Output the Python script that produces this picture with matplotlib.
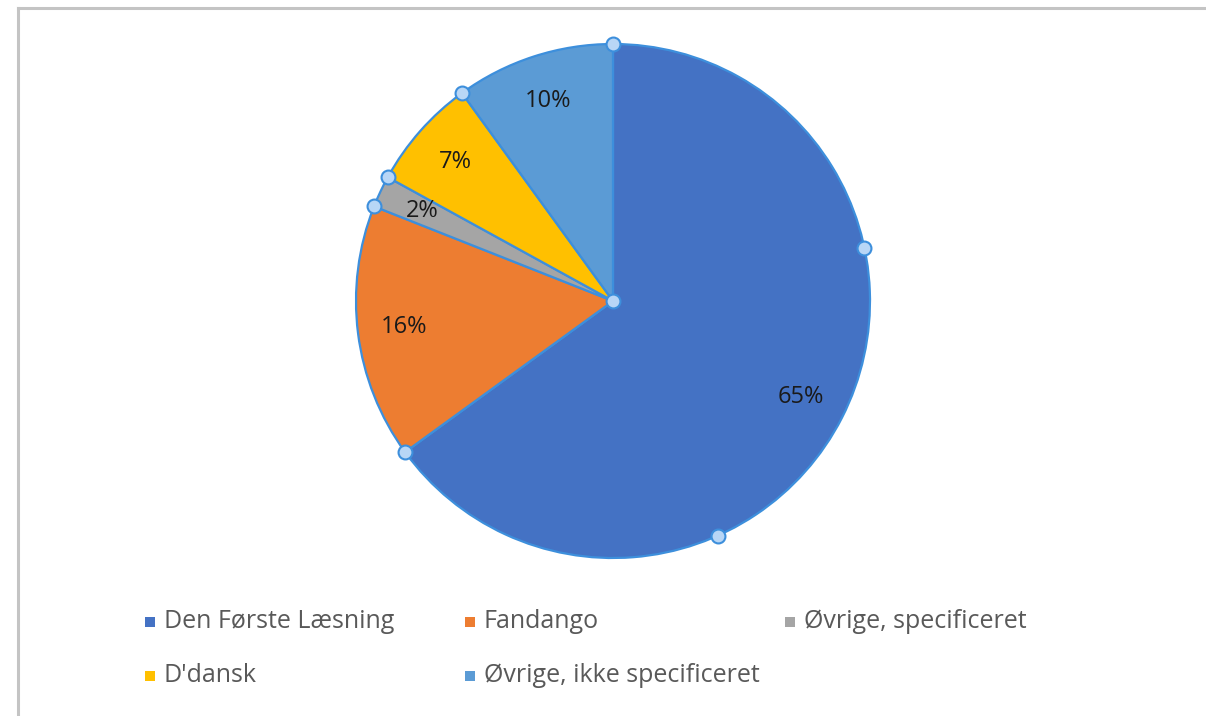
import matplotlib.pyplot as plt
import numpy as np
from matplotlib.lines import Line2D
from matplotlib.patches import Rectangle

# Andel af læsematerialer
labels = ['Den Første Læsning', 'Fandango', 'Øvrige, specificeret', "D'dansk", 'Øvrige, ikke specificeret']
shares = [65, 16, 2, 7, 10]
colors = ['#4472C4', '#ED7D31', '#A5A5A5', '#FFC000', '#5B9BD5']

plt.rcParams['font.family'] = ['Open Sans', 'DejaVu Sans']

W, H = 1206, 716
fig = plt.figure(figsize=(W / 100, H / 100), dpi=100)

# pie axes: centre (613, 301) px, radius 257 px
cx, cy, r = 613, 301, 257
ax = fig.add_axes([(cx - r) / W, (H - cy - r) / H, 2 * r / W, 2 * r / H])

wedges, texts, autotexts = ax.pie(
    shares, colors=colors, startangle=90, counterclock=False,
    autopct='%1.0f%%', pctdistance=0.82,
    wedgeprops=dict(edgecolor='#3d8fdc', linewidth=1.6),
    textprops=dict(fontsize=17, color='#1a1a1a'))
ax.set_xlim(-1, 1)
ax.set_ylim(-1, 1)
ax.set_aspect('equal')

# selection handles at slice borders and centre
handle = dict(marker='o', markersize=10, markerfacecolor='#b8d6f6',
              markeredgecolor='#3d8fdc', markeredgewidth=1.5, linestyle='none',
              clip_on=False, zorder=10)
bounds = np.cumsum([0] + shares[:-1]) / sum(shares)
ang = np.deg2rad(90 - 360 * bounds)
ax.plot(np.cos(ang), np.sin(ang), **handle)
extra = np.deg2rad(90 - np.array([78, 156]))
ax.plot(np.cos(extra), np.sin(extra), **handle)
ax.plot([0], [0], **handle)

# chart frame (left and top edges)
fig.add_artist(Line2D([18 / W, 18 / W], [0, 1 - 8 / H], color='#c4c4c4', lw=2.2))
fig.add_artist(Line2D([18 / W, 1], [1 - 8 / H, 1 - 8 / H], color='#c4c4c4', lw=2.2))

# legend, three columns
for i, (lab, col) in enumerate(zip(labels, colors)):
    x0 = 145 + 320 * (i % 3)
    y0 = 622 + 54 * (i // 3)
    fig.add_artist(Rectangle((x0 / W, (H - y0 - 5) / H), 10 / W, 10 / H,
                             facecolor=col, edgecolor='none'))
    fig.text((x0 + 19) / W, (H - y0) / H, lab, fontsize=18, color='#595959',
             va='center', ha='left')

fig.savefig('out.png', dpi=100, facecolor='white')
